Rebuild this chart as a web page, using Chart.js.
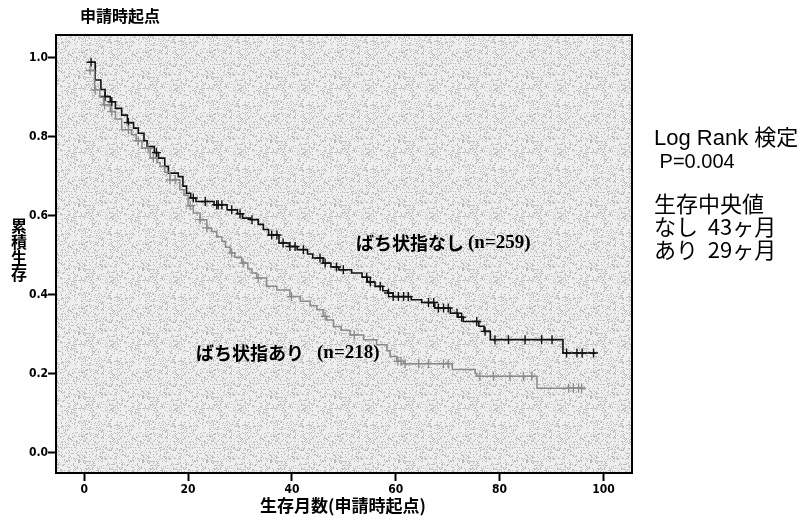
<!DOCTYPE html>
<html lang="ja">
<head>
  <meta charset="UTF-8" />
  <title>申請時起点</title>
  <script src="https://cdn.jsdelivr.net/npm/chart.js"></script>
  <style>
    * {
      box-sizing: border-box;
    }
    body {
      margin: 0;
      background: #fff;
    }
    .wrap {
      width: 810px;
      height: 528px;
      position: relative;
    }
  </style>
</head>
<body>
  <div class="wrap">
    <canvas id="km" width="810" height="528"></canvas>
  </div>
  <script>
    // ばち状指なし (n=259): event times (months) and survival after each drop
    const nashiTimes = [0.8, 2.1, 3.2, 4.0, 5.0, 6.0, 7.2, 8.3, 9.5, 10.4, 11.5, 12.1, 13.5, 14.3, 15.5, 16.2,
      18.1, 19.0, 19.7, 20.5, 21.5, 25.0, 27.5, 29.5, 30.5, 32.0, 33.5, 34.5, 35.5, 37.5, 39.5, 41.0, 43.0,
      44.0, 46.0, 47.5, 49.0, 51.5, 53.5, 54.5, 56.0, 57.5, 58.5, 59.5, 63.0, 65.0, 67.5, 70.5, 72.0, 73.0,
      76.0, 77.0, 78.2, 92.2, 98.6];
    const nashiSurv = [0.989, 0.944, 0.92, 0.902, 0.889, 0.872, 0.855, 0.836, 0.822, 0.809, 0.79, 0.775, 0.76,
      0.746, 0.725, 0.708, 0.699, 0.675, 0.657, 0.645, 0.636, 0.628, 0.615, 0.605, 0.594, 0.59, 0.578, 0.565,
      0.551, 0.531, 0.522, 0.514, 0.503, 0.493, 0.48, 0.47, 0.463, 0.455, 0.444, 0.432, 0.421, 0.41, 0.404,
      0.395, 0.387, 0.38, 0.366, 0.353, 0.343, 0.332, 0.32, 0.307, 0.286, 0.252, 0.252];
    const nashiCensor = [1.3, 4.0, 5.3, 8.5, 13.9, 21.0, 23.3, 25.5, 25.8, 26.5, 28.4, 30.0, 32.3, 36.1, 37.1,
      38.3, 39.6, 40.6, 42.2, 45.4, 46.4, 48.6, 49.9, 54.4, 55.1, 57.0, 58.6, 59.5, 60.5, 61.5, 62.4, 66.3,
      67.3, 68.2, 69.2, 70.1, 71.8, 72.7, 75.6, 77.2, 79.1, 81.7, 84.9, 88.1, 90.1, 92.9, 94.9, 95.9, 98.1];

    // ばち状指あり (n=218)
    const ariTimes = [0.8, 2.0, 3.0, 3.7, 5.0, 6.0, 7.2, 9.1, 10.0, 11.1, 12.7, 14.0, 14.6, 15.5, 16.5, 18.4,
      19.2, 20.0, 21.0, 22.3, 23.6, 24.5, 25.5, 26.5, 27.2, 28.1, 29.0, 30.3, 31.5, 32.3, 33.2, 35.1, 37.1,
      39.6, 41.6, 43.5, 44.8, 46.0, 46.7, 48.0, 49.5, 51.2, 53.8, 56.3, 58.3, 58.9, 60.2, 61.5, 70.9, 75.3,
      75.6, 87.2, 96.5];
    const ariSurv = [0.968, 0.919, 0.9, 0.881, 0.864, 0.845, 0.818, 0.805, 0.79, 0.771, 0.746, 0.735, 0.725,
      0.71, 0.691, 0.666, 0.652, 0.625, 0.607, 0.59, 0.569, 0.56, 0.547, 0.535, 0.52, 0.506, 0.495, 0.48,
      0.465, 0.455, 0.442, 0.421, 0.412, 0.395, 0.383, 0.372, 0.362, 0.345, 0.336, 0.319, 0.31, 0.298, 0.286,
      0.273, 0.258, 0.243, 0.231, 0.225, 0.21, 0.2, 0.193, 0.163, 0.163];
    const ariCensor = [1.1, 2.1, 3.9, 5.3, 8.5, 10.4, 12.3, 13.3, 16.5, 17.5, 20.4, 22.3, 23.6, 28.4, 30.6,
      33.5, 39.9, 46.4, 52.0, 60.4, 61.0, 61.8, 64.4, 66.3, 69.2, 70.1, 76.2, 78.8, 82.0, 84.6, 86.2, 93.3,
      94.2, 95.2, 95.8];

    const xTicks = [0, 20, 40, 60, 80, 100];
    const yTicks = [0.0, 0.2, 0.4, 0.6, 0.8, 1.0];

    const tickFont = { family: "'Liberation Sans Narrow', 'DejaVu Sans Condensed', sans-serif", size: 12, weight: 'bold' };
    const jpFont = "'Noto Sans CJK JP', sans-serif";

    // survival value of a step curve at time t (for placing censor marks)
    function survAt(times, surv, t) {
      let s = 1;
      for (let i = 0; i < times.length; i++) {
        if (times[i] <= t) s = surv[i];
      }
      return s;
    }

    const toPts = (times, surv) => times.map((t, i) => ({ x: t, y: surv[i] }));
    const censorPts = (times, surv, cens) => cens.map(c => ({ x: c, y: survAt(times, surv, c) }));

    // stippled light grey fill for the plot area (hashed pixel dots)
    function makeStipple(ctx) {
      const n = 64;
      const c = document.createElement('canvas');
      c.width = n;
      c.height = n;
      const g = c.getContext('2d');
      const img = g.createImageData(n, n);
      for (let y = 0; y < n; y++) {
        for (let x = 0; x < n; x++) {
          let h = Math.imul(x, 374761393) + Math.imul(y, 668265263);
          h = Math.imul(h ^ (h >>> 13), 1274126177);
          h = (h ^ (h >>> 16)) >>> 0;
          const v = (h % 100) < 22 ? 188 : 238;
          const k = (y * n + x) * 4;
          img.data[k] = img.data[k + 1] = img.data[k + 2] = v;
          img.data[k + 3] = 255;
        }
      }
      g.putImageData(img, 0, 0);
      return ctx.createPattern(c, 'repeat');
    }

    const plotFrame = {
      id: 'plotFrame',
      beforeDraw(chart) {
        const { ctx, chartArea: a } = chart;
        ctx.save();
        ctx.fillStyle = makeStipple(ctx);
        ctx.fillRect(a.left, a.top, a.right - a.left, a.bottom - a.top);
        ctx.restore();
      },
      afterDraw(chart) {
        const { ctx, chartArea: a } = chart;
        ctx.save();
        ctx.strokeStyle = '#000';
        ctx.lineWidth = 2;
        ctx.strokeRect(a.left, a.top, a.right - a.left, a.bottom - a.top);
        ctx.restore();
      }
    };

    const texts = {
      id: 'texts',
      afterDraw(chart) {
        const ctx = chart.ctx;
        ctx.save();
        ctx.fillStyle = '#000';
        ctx.textBaseline = 'middle';

        // title
        ctx.textAlign = 'left';
        ctx.font = 'bold 16px ' + jpFont;
        ctx.fillText('申請時起点', 80, 16);

        // y axis title, one character per line
        ctx.textAlign = 'center';
        ctx.font = 'bold 16px ' + jpFont;
        ['累', '積', '生', '存'].forEach((ch, i) => ctx.fillText(ch, 19, 226 + i * 16));

        // x axis title
        ctx.font = 'bold 17px ' + jpFont;
        ctx.fillText('生存月数(申請時起点)', 343, 506);

        // curve labels
        ctx.textAlign = 'left';
        ctx.font = 'bold 18px ' + jpFont;
        ctx.fillText('ばち状指なし', 356, 243);
        ctx.fillText('ばち状指あり', 196, 353);
        ctx.font = 'bold 19px "Liberation Serif", serif';
        ctx.fillText('(n=259)', 468, 243);
        ctx.fillText('(n=218)', 317, 353);

        // log rank test and medians
        ctx.font = '22px "Liberation Sans", ' + jpFont;
        ctx.fillText('Log Rank 検定', 654, 139);
        ctx.font = '20px "Liberation Sans", sans-serif';
        ctx.fillText(' P=0.004', 654, 162);
        ctx.font = '22px ' + jpFont;
        ctx.fillText('生存中央値', 654, 204);
        ctx.fillText('なし  43ヶ月', 654, 227);
        ctx.fillText('あり  29ヶ月', 654, 250);
        ctx.restore();
      }
    };

    new Chart(document.getElementById('km'), {
      type: 'scatter',
      data: {
        datasets: [
          {
            data: toPts(ariTimes, ariSurv),
            showLine: true,
            stepped: 'before',
            borderColor: '#8a8a8a',
            borderWidth: 1.5,
            pointRadius: 0
          },
          {
            data: censorPts(ariTimes, ariSurv, ariCensor),
            pointStyle: 'cross',
            pointRadius: 4.5,
            borderColor: '#8a8a8a',
            borderWidth: 1.3
          },
          {
            data: toPts(nashiTimes, nashiSurv),
            showLine: true,
            stepped: 'before',
            borderColor: '#111',
            borderWidth: 1.6,
            pointRadius: 0
          },
          {
            data: censorPts(nashiTimes, nashiSurv, nashiCensor),
            pointStyle: 'cross',
            pointRadius: 4.5,
            borderColor: '#111',
            borderWidth: 1.4
          }
        ]
      },
      options: {
        responsive: false,
        animation: false,
        layout: {
          padding: { top: 35, right: 178, left: 0, bottom: 0 }
        },
        scales: {
          x: {
            type: 'linear',
            min: -5.45,
            max: 105.5,
            afterFit(scale) { scale.height = 55; },
            afterBuildTicks(scale) { scale.ticks = xTicks.map(v => ({ value: v })); },
            border: { display: false },
            grid: { drawOnChartArea: false, drawTicks: true, tickLength: 8, tickWidth: 2, tickColor: '#000' },
            ticks: { color: '#000', font: tickFont, padding: 2, maxRotation: 0 }
          },
          y: {
            type: 'linear',
            min: -0.052,
            max: 1.058,
            afterFit(scale) { scale.width = 56; },
            afterBuildTicks(scale) { scale.ticks = yTicks.map(v => ({ value: v })); },
            border: { display: false },
            grid: { drawOnChartArea: false, drawTicks: true, tickLength: 8, tickWidth: 2, tickColor: '#000' },
            ticks: { color: '#000', font: tickFont, padding: 0, callback: v => v.toFixed(1) }
          }
        },
        plugins: {
          legend: { display: false },
          tooltip: { enabled: false }
        }
      },
      plugins: [plotFrame, texts]
    });
  </script>
</body>
</html>
